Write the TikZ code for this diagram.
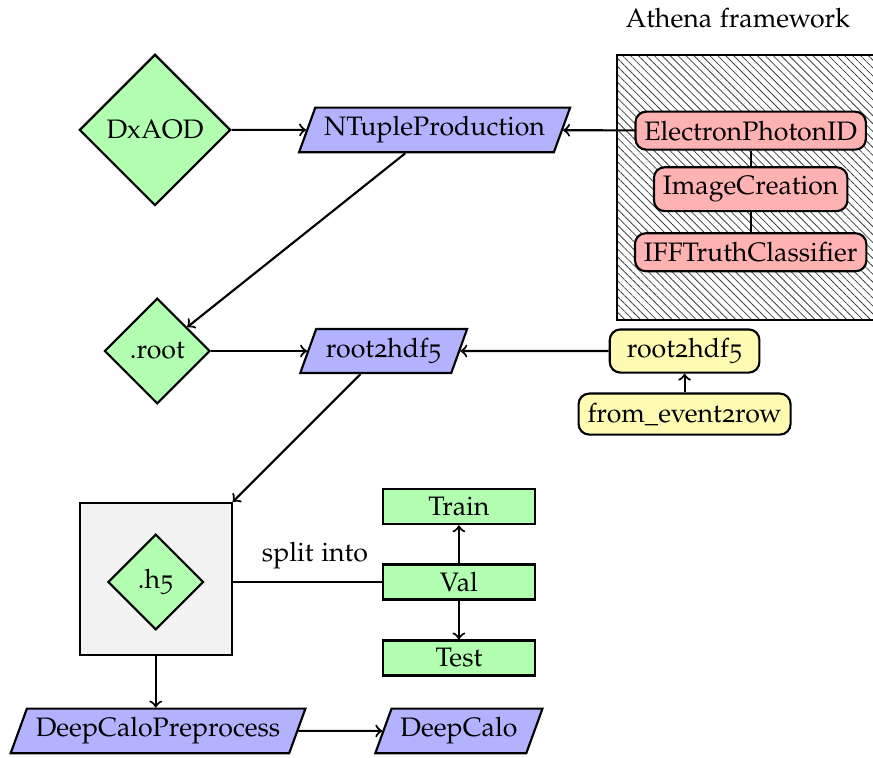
\documentclass[tikz,border=0pt]{standalone}
\usepackage[T1]{fontenc}
\usepackage[osf]{mathpazo}
\usetikzlibrary{shapes.geometric,patterns.meta}

\begin{document}
\begin{tikzpicture}[thick]
    \tikzstyle{data} = [diamond,draw,fill=green!30,aspect=1,inner sep=0pt]
    \tikzstyle{io} = [trapezium,trapezium left angle=70,trapezium right angle=110,trapezium stretches=true,draw,fill=blue!30,minimum height=0.58cm]
    \tikzstyle{tool} = [rectangle,rounded corners,draw,fill=red!30,minimum height=0.5cm]
    \tikzstyle{helper} = [rectangle,rounded corners,draw,fill=yellow!30,minimum height=0.54cm]
    \tikzstyle{subset} = [rectangle,draw,fill=green!30,minimum width=2cm,minimum height=0.46cm,inner sep=0pt]
    \tikzstyle{hatch} = [draw,pattern={Lines[angle=-45,distance=2.1pt,line width=0.3pt]},pattern color=black!75]
    \useasboundingbox (0,0) rectangle (11.49,-9.97);
        % athena part
        \node[hatch,minimum width=3.52cm,minimum height=3.49cm] (athena) at (9.88,-2.465) {};
        \node at (9.71,-0.24) {Athena framework};
        \node[tool] (egid) at (9.88,-1.72) {ElectronPhotonID};
        \node[tool] (image) at (9.88,-2.49) {ImageCreation};
        \node[tool] (iff) at (9.88,-3.32) {IFFTruthClassifier};
        \draw (egid) -- (image);
        \draw (image) -- (iff);
        % ntuples
        \node[data,minimum size=1.99cm] (dxaod) at (2.04,-1.71) {DxAOD};
        \node[io,minimum width=3.55cm] (ntuple) at (5.72,-1.71) {NTupleProduction};
        \node[data,minimum size=1.39cm] (root) at (2.07,-4.62) {.root};
        \draw[->] (dxaod) -- (ntuple);
        \draw[->] (egid) -- (ntuple);
        \draw[->] (ntuple) -- (root);
        % conversion
        \node[io,minimum width=2.21cm] (convert) at (5.05,-4.62) {root2hdf5};
        \node[helper,minimum width=1.97cm] (pkg) at (9.01,-4.62) {root2hdf5};
        \node[helper,minimum width=2.79cm] (event) at (9.01,-5.45) {from\_event2row};
        \draw[->] (root) -- (convert);
        \draw[->] (pkg) -- (convert);
        \draw[->] (event) -- (pkg);
        % h5 and split
        \node[draw,fill=gray!10,minimum size=2cm] (h5box) at (2.05,-7.62) {};
        \node[data,minimum size=1.26cm] (h5) at (2.05,-7.66) {.h5};
        \draw[->] (convert) -- (h5box);
        \node[subset] (train) at (6.04,-6.67) {Train};
        \node[subset] (val) at (6.04,-7.66) {Val};
        \node[subset] (test) at (6.04,-8.66) {Test};
        \draw (h5box.east |- val) -- node[above=1pt,xshift=1mm] {split into} (val);
        \draw[->] (val) -- (train);
        \draw[->] (val) -- (test);
        % training
        \node[io,minimum width=3.71cm] (prep) at (2.08,-9.62) {DeepCaloPreprocess};
        \node[io,minimum width=2.14cm] (calo) at (6.04,-9.62) {DeepCalo};
        \draw[->] (h5box) -- (h5box |- prep.north);
        \draw[->] (prep) -- (calo);
    \end{tikzpicture}
\end{document}
